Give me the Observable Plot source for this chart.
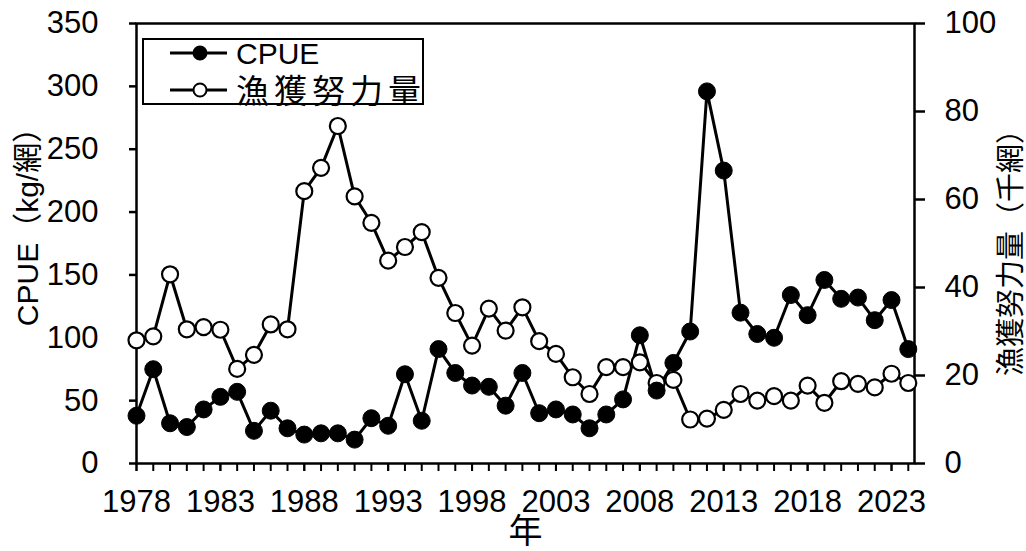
<!DOCTYPE html>
<html><head><meta charset="utf-8">
<script src="https://cdn.jsdelivr.net/npm/d3@7"></script>
<script src="https://cdn.jsdelivr.net/npm/@observablehq/plot@0.6"></script>
<style>
body{margin:0;background:#fff;}
#wrap{position:relative;width:1026px;height:551px;}
#legend{position:absolute;left:142px;top:38px;overflow:visible;}
</style></head>
<body><div id="wrap"></div>
<script>
const years = d3.range(1978, 2025);
const cpue = [38, 75, 32, 29, 43, 53, 57, 26, 42, 28, 23, 24, 24, 19, 36, 30,
  71, 34, 91, 72, 62, 61, 46, 72, 40, 43, 39, 28, 39, 51, 102, 58, 80, 105,
  296, 233, 120, 103, 100, 134, 118, 146, 131, 132, 114, 130, 91];
const effort = [28, 28.9, 43, 30.5, 31, 30.4, 21.5, 24.7, 31.6, 30.5, 61.9, 67.2, 76.7, 60.7, 54.7, 46.1,
  49.2, 52.6, 42.2, 34.2, 26.8, 35.2, 30.2, 35.5, 27.8, 24.9, 19.6, 15.8, 21.9, 21.9, 23, 18.3, 19, 10,
  10.2, 12.2, 15.8, 14.3, 15.3, 14.3, 17.7, 13.8, 18.7, 18.1, 17.3, 20.4, 18.3];
const labelYears = [1978, 1983, 1988, 1993, 1998, 2003, 2008, 2013, 2018, 2023];
const leftTicks = [0, 50, 100, 150, 200, 250, 300, 350];
const rightTicks = [0, 20, 40, 60, 80, 100];
const seriesNames = ["CPUE", "漁獲努力量"];
const leftTitle = "CPUE（kg/網）";
const rightTitle = "漁獲努力量（千網）";
const xTitle = "年";

const ratio = 350 / 100;
const rowsC = years.map((y, i) => ({year: y, v: cpue[i]}));
const rowsE = years.map((y, i) => ({year: y, v: effort[i] * ratio}));

const font = "'Liberation Sans', Arial, 'Noto Sans CJK JP', sans-serif";

const chart = Plot.plot({
  width: 1026, height: 551,
  marginLeft: 136, marginRight: 112, marginTop: 23, marginBottom: 88,
  style: {fontFamily: font, fontSize: "31px", color: "black", background: "white"},
  x: {domain: [1978, 2024.37], label: null},
  y: {domain: [0, 350], label: null},
  marks: [
    Plot.axisY({anchor: "left", ticks: leftTicks, tickSize: 7, tickPadding: 31, fontSize: 31, strokeWidth: 2.5, tickFormat: d => String(d), label: null}),
    Plot.axisY({anchor: "right", ticks: rightTicks.map(d => d * ratio), tickSize: 10, tickPadding: 20, fontSize: 31, strokeWidth: 2.5, tickFormat: d => String(Math.round(d / ratio)), label: null}),
    Plot.axisX({ticks: years, tickSize: 8, strokeWidth: 2, tickFormat: () => "", label: null}),
    Plot.axisX({ticks: labelYears, tickSize: 8, tickPadding: 18, fontSize: 31, strokeWidth: 2, tickFormat: d => String(d), label: null}),
    Plot.frame({stroke: "black", strokeWidth: 2.5}),
    Plot.line(rowsE, {x: "year", y: "v", stroke: "black", strokeWidth: 3}),
    Plot.line(rowsC, {x: "year", y: "v", stroke: "black", strokeWidth: 3}),
    Plot.dot(rowsE, {x: "year", y: "v", r: 8, fill: "white", stroke: "black", strokeWidth: 2.2}),
    Plot.dot(rowsC, {x: "year", y: "v", r: 8.5, fill: "black", stroke: "black", strokeWidth: 1}),
    Plot.text([leftTitle], {text: d => d, frameAnchor: "left", textAnchor: "middle", lineAnchor: "middle", dx: -108, dy: -24, rotate: -90, fontSize: 30}),
    Plot.text([rightTitle], {text: d => d, frameAnchor: "right", textAnchor: "middle", lineAnchor: "middle", dx: 97, dy: 2, rotate: -90, fontSize: 29}),
    Plot.text([xTitle], {text: d => d, frameAnchor: "bottom", textAnchor: "middle", lineAnchor: "middle", dy: 69, fontSize: 34})
  ]
});
document.getElementById("wrap").appendChild(chart);

// legend (inside the plot area, top-left)
const lg = d3.create("svg").attr("id", "legend").attr("width", 282).attr("height", 70)
  .style("font-family", font);
lg.append("rect").attr("x", 1).attr("y", 1).attr("width", 280).attr("height", 65)
  .attr("fill", "white").attr("stroke", "black").attr("stroke-width", 2);
seriesNames.forEach((name, i) => {
  const cy = 15 + i * 37;
  lg.append("line").attr("x1", 28).attr("x2", 85).attr("y1", cy).attr("y2", cy)
    .attr("stroke", "black").attr("stroke-width", 3);
  lg.append("circle").attr("cx", 58).attr("cy", cy).attr("r", 6.5)
    .attr("fill", i === 0 ? "black" : "white").attr("stroke", "black").attr("stroke-width", 2);
  lg.append("text").attr("x", 94).attr("y", cy).attr("dy", i === 0 ? "0.36em" : "0.38em")
    .attr("font-size", i === 0 ? 30 : 33)
    .attr("letter-spacing", i === 0 ? 0 : 5)
    .attr("fill", "black").text(name);
});
document.getElementById("wrap").appendChild(lg.node());
</script>
</body></html>
